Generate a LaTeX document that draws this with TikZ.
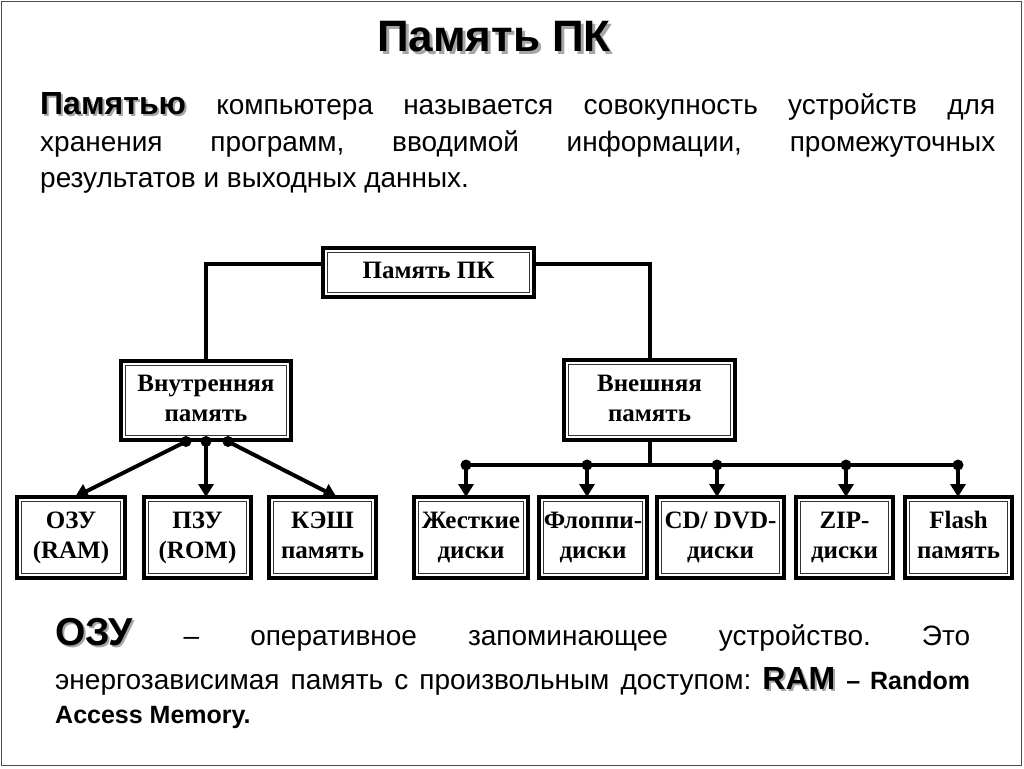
\documentclass[tikz,border=0pt]{standalone}
\usepackage{fontspec}
\setmainfont{Liberation Sans}
\newfontfamily\boxfont{Liberation Serif}
\usetikzlibrary{arrows.meta}
\newcommand\shad[2][2]{\leavevmode\rlap{\kern#1pt\raisebox{-#1pt}{\textcolor{black!35}{#2}}}{#2}}
\newcommand\twol[2]{#1\strut\\#2\strut}
\frenchspacing
\begin{document}
\begin{tikzpicture}[x=1pt,y=-1pt,
  memobox/.style={draw, line width=4pt, outer sep=0pt, inner sep=0pt, align=center, fill=white,
    font=\boxfont\bfseries\fontsize{25}{30}\selectfont},
  conn/.style={line width=4pt},
  arr/.style={-{Triangle[width=15pt,length=13pt]}},
  txt/.style={anchor=base west, inner sep=0pt, font=\fontsize{28}{28}\selectfont}]
\useasboundingbox (0,0) rectangle (1024,768);
\fill[white] (0,0) rectangle (1024,768);
\draw[line width=1.5pt, black!70] (1.5,1.5) rectangle (1021.5,765.5);

% title
\node[anchor=base, inner sep=0pt, font=\bfseries\fontsize{44}{44}\selectfont] (title) at (494,52) {\shad[3]{Память ПК}};

% top paragraph
\node[txt] (p1) at (40,114) {\makebox[955pt][s]{\shad{\fontsize{32}{32}\selectfont\bfseries Памятью} компьютера называется совокупность устройств для}};
\node[txt] (p2) at (40,151) {\makebox[955pt][s]{хранения программ, вводимой информации, промежуточных}};
\node[txt] (p3) at (40,187) {результатов и выходных данных.};

% boxes
\node[memobox, minimum width=211pt, minimum height=49pt] (top) at (428.5,272.5) {Память ПК\strut};
\node[memobox, minimum width=170pt, minimum height=79pt] (inner) at (206,400.5) {\twol{Внутренняя}{память}};
\node[memobox, minimum width=171pt, minimum height=80pt] (outer) at (649.5,400) {\twol{Внешняя}{память}};
\node[memobox, minimum width=108pt, minimum height=81pt] (ozu) at (71,537.5) {\twol{ОЗУ}{(RAM)}};
\node[memobox, minimum width=107pt, minimum height=81pt] (pzu) at (197.5,537.5) {\twol{ПЗУ}{(ROM)}};
\node[memobox, minimum width=107pt, minimum height=81pt] (kesh) at (322.5,537.5) {\twol{КЭШ}{память}};
\node[memobox, minimum width=114pt, minimum height=81pt] (hdd) at (471,537.5) {\twol{Жесткие}{диски}};
\node[memobox, minimum width=108pt, minimum height=81pt] (flop) at (593,537.5) {\twol{Флоппи-}{диски}};
\node[memobox, minimum width=127pt, minimum height=81pt] (cd) at (720.5,537.5) {\twol{CD/ DVD-}{диски}};
\node[memobox, minimum width=97pt, minimum height=81pt] (zip) at (844.5,537.5) {\twol{ZIP-}{диски}};
\node[memobox, minimum width=107pt, minimum height=81pt] (flash) at (958.5,537.5) {\twol{Flash}{память}};
\foreach \n in {top,inner,outer,ozu,pzu,kesh,hdd,flop,cd,zip,flash}
  \draw[line width=1.3pt, black!80] ([shift={(4.6pt,-4.6pt)}]\n.north west) rectangle ([shift={(-4.6pt,4.6pt)}]\n.south east);

% connectors from top
\coordinate (tl) at ([yshift=8.5pt]top.west);
\coordinate (tr) at ([yshift=8.5pt]top.east);
\draw[conn] (tl) -| (inner.north);
\draw[conn] (tr) -| (outer.north);

% internal memory branches
\coordinate (ia) at ([xshift=-20pt,yshift=-1.5pt]inner.south);
\coordinate (ib) at ([xshift=0pt,yshift=-1.5pt]inner.south);
\coordinate (ic) at ([xshift=22pt,yshift=-1.5pt]inner.south);
\draw[conn, arr] (ia) -- ([xshift=4pt]ozu.north);
\draw[conn, arr] (ib) -- (ib |- pzu.north);
\draw[conn, arr] (ic) -- ([xshift=14pt]kesh.north);
\foreach \c in {ia,ib,ic} \fill (\c) circle (5.5pt);

% external memory branches
\coordinate (d1) at (466,465);
\coordinate (d2) at (587,465);
\coordinate (d3) at (717,465);
\coordinate (d4) at (846,465);
\coordinate (d5) at (958,465);
\draw[conn] (outer.south) -- (outer.south |- d1);
\draw[conn] (d1) -- (d5);
\foreach \d/\n in {d1/hdd,d2/flop,d3/cd,d4/zip,d5/flash} {
  \draw[conn, arr] (\d) -- (\d |- \n.north);
  \fill (\d) circle (5.5pt);
}

% bottom paragraph
\node[txt] (b1) at (55,645) {\makebox[915pt][s]{\shad{\fontsize{39}{39}\selectfont\bfseries ОЗУ} – оперативное запоминающее устройство. Это}};
\node[txt] (b2) at (55,689) {\makebox[915pt][s]{энергозависимая память с произвольным доступом: \shad{\fontsize{32}{32}\selectfont\bfseries RAM} {\fontsize{25}{25}\selectfont\bfseries – Random}}};
\node[txt, font=\bfseries\fontsize{25}{25}\selectfont] (b3) at (55,723) {Access Memory.};
\end{tikzpicture}
\end{document}
